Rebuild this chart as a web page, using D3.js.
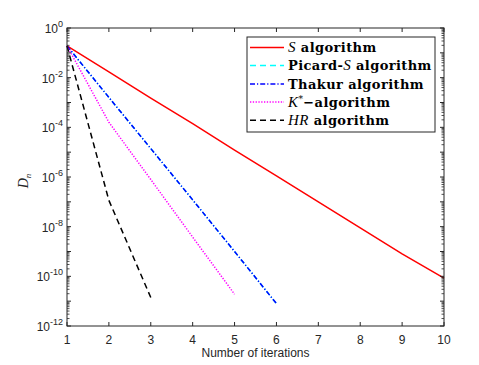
<!DOCTYPE html>
<html>
<head>
<meta charset="utf-8">
<script src="https://cdn.jsdelivr.net/npm/d3@7"></script>
<style>
  body { margin: 0; background: #fff; }
  svg { display: block; }
</style>
</head>
<body>
<div id="demo"></div>
<script>
// iterations
var iters = [1, 2, 3, 4, 5, 6, 7, 8, 9, 10];

// D_n values
var sAlg      = [0.19, 1.7e-2, 1.5e-3, 1.4e-4, 1.2e-5, 1.1e-6, 1.0e-7, 9e-9, 8e-10, 8.5e-11];
var picardS   = [0.19, 1.6e-3, 1.4e-5, 1.2e-7, 1.0e-9, 8e-12];
var thakur    = [0.19, 1.6e-3, 1.4e-5, 1.2e-7, 1.0e-9, 8e-12];
var kStar     = [0.19, 1.6e-4, 7.9e-7, 3.8e-9, 1.9e-11];
var hr        = [0.19, 1.15e-7, 1.4e-11];

var xTicks = [1, 2, 3, 4, 5, 6, 7, 8, 9, 10];
var yLabelExps = [0, -2, -4, -6, -8, -10, -12];

var series = [
  {name: 'picard', vals: picardS, color: '#00ffff', dash: '5,2,1.2,2'},
  {name: 's', vals: sAlg, color: '#ff0000', dash: null},
  {name: 'thakur', vals: thakur, color: '#0000ff', dash: '5,2,1.2,2'},
  {name: 'kstar', vals: kStar, color: '#ff00ff', dash: '1.3,1.5'},
  {name: 'hr', vals: hr, color: '#000000', dash: '6,4'}
];

var W = 479, H = 365;
var L = 67, R = 444, T = 28, B = 326;
var axisColor = '#262626';

var svg = d3.select('#demo').append('svg')
  .attr('width', W).attr('height', H);

var x = d3.scaleLinear().domain([1, 10]).range([L, R]);
var y = d3.scaleLog().domain([1e-12, 1]).range([B, T]);

// plot box
svg.append('rect')
  .attr('x', L).attr('y', T).attr('width', R - L).attr('height', B - T)
  .attr('fill', '#fff');

// lines
var line = d3.line()
  .x(function(d, i) { return x(iters[i]); })
  .y(function(d) { return y(d); });

series.forEach(function(s) {
  svg.append('path')
    .attr('d', line(s.vals))
    .attr('fill', 'none')
    .attr('stroke', s.color)
    .attr('stroke-width', 1.5)
    .attr('stroke-dasharray', s.dash);
});

// box
svg.append('rect')
  .attr('x', L).attr('y', T).attr('width', R - L).attr('height', B - T)
  .attr('fill', 'none').attr('stroke', axisColor).attr('stroke-width', 1);

// x ticks (bottom + top, inward)
var gx = svg.append('g');
xTicks.forEach(function(t) {
  gx.append('line').attr('x1', x(t)).attr('x2', x(t)).attr('y1', B).attr('y2', B - 4)
    .attr('stroke', axisColor);
  gx.append('line').attr('x1', x(t)).attr('x2', x(t)).attr('y1', T).attr('y2', T + 4)
    .attr('stroke', axisColor);
  gx.append('text').attr('x', x(t)).attr('y', B + 18)
    .attr('text-anchor', 'middle')
    .attr('font-family', 'Liberation Sans, Arial, sans-serif')
    .attr('font-size', 12).attr('fill', axisColor)
    .text(t);
});

// y ticks (log, major + minor, both sides)
var gy = svg.append('g');
for (var e = -12; e <= 0; e++) {
  var v = Math.pow(10, e);
  gy.append('line').attr('x1', L).attr('x2', L + 4).attr('y1', y(v)).attr('y2', y(v))
    .attr('stroke', axisColor);
  gy.append('line').attr('x1', R).attr('x2', R - 4).attr('y1', y(v)).attr('y2', y(v))
    .attr('stroke', axisColor);
  if (e < 0) {
    for (var m = 2; m <= 9; m++) {
      var mv = m * v;
      gy.append('line').attr('x1', L).attr('x2', L + 2.5).attr('y1', y(mv)).attr('y2', y(mv))
        .attr('stroke', axisColor).attr('stroke-width', 0.8);
      gy.append('line').attr('x1', R).attr('x2', R - 2.5).attr('y1', y(mv)).attr('y2', y(mv))
        .attr('stroke', axisColor).attr('stroke-width', 0.8);
    }
  }
}
yLabelExps.forEach(function(e) {
  var t = gy.append('text')
    .attr('x', L - 4).attr('y', y(Math.pow(10, e)) + 5)
    .attr('text-anchor', 'end')
    .attr('font-family', 'Liberation Sans, Arial, sans-serif')
    .attr('font-size', 12).attr('fill', axisColor);
  t.append('tspan').text('10');
  t.append('tspan').attr('dy', -6).attr('font-size', 9).text(e);
});

// axis labels
svg.append('text')
  .attr('x', (L + R) / 2).attr('y', 357)
  .attr('text-anchor', 'middle')
  .attr('font-family', 'Liberation Sans, Arial, sans-serif')
  .attr('font-size', 12).attr('fill', axisColor)
  .text('Number of iterations');

var yl = svg.append('text')
  .attr('transform', 'translate(28,' + ((T + B) / 2 + 4) + ') rotate(-90)')
  .attr('text-anchor', 'middle')
  .attr('font-family', 'Liberation Serif, serif')
  .attr('font-size', 14).attr('fill', axisColor);
yl.append('tspan').attr('font-style', 'italic').text('D');
yl.append('tspan').attr('font-style', 'italic').attr('font-size', 9).attr('dy', 3).text('n');

// legend
var lg = svg.append('g');
lg.append('rect')
  .attr('x', 247).attr('y', 37).attr('width', 188).attr('height', 95)
  .attr('fill', '#fff').attr('stroke', axisColor).attr('stroke-width', 1);

var legendItems = [
  {color: '#ff0000', dash: null, parts: [['S', 'i'], [' algorithm', 'b']]},
  {color: '#00ffff', dash: '6,4', parts: [['Picard-', 'b'], ['S', 'i'], [' algorithm', 'b']]},
  {color: '#0000ff', dash: '5,2,1.2,2', parts: [['Thakur algorithm', 'b']]},
  {color: '#ff00ff', dash: '1.3,1.5', parts: [['K', 'i'], ['*', 'sup'], ['\u2212algorithm', 'b']]},
  {color: '#000000', dash: '6,4', parts: [['HR', 'i'], [' algorithm', 'b']]}
];
var legendY = [47.5, 65.5, 84, 102, 120.3];

legendItems.forEach(function(d, i) {
  var ly = legendY[i];
  lg.append('line')
    .attr('x1', 250).attr('x2', 284).attr('y1', ly).attr('y2', ly)
    .attr('stroke', d.color).attr('stroke-width', 1.5)
    .attr('stroke-dasharray', d.dash);
  var t = lg.append('text')
    .attr('x', 288).attr('y', ly + 4.5)
    .attr('font-family', 'DejaVu Serif, serif')
    .attr('font-size', 13).attr('letter-spacing', 0.4).attr('fill', '#000');
  var raised = false;
  d.parts.forEach(function(p) {
    var ts = t.append('tspan').text(p[0]);
    if (p[1] === 'i') ts.attr('font-style', 'italic').attr('font-family', 'Liberation Serif, serif').attr('font-size', 15);
    if (p[1] === 'b') ts.attr('font-weight', 'bold');
    if (p[1] === 'sup') { ts.attr('font-size', 9).attr('dy', -5); raised = true; }
    else if (raised) { ts.attr('dy', 5); raised = false; }
  });
});
</script>
</body>
</html>
